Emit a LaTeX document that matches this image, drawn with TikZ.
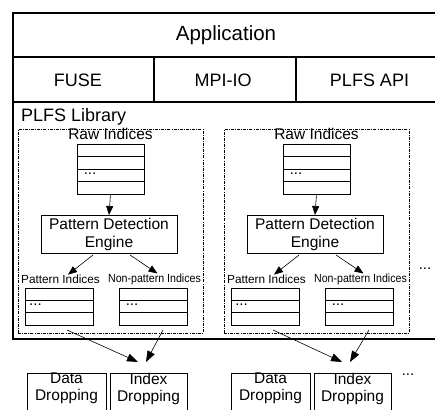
\documentclass[tikz,border=0pt]{standalone}
\usepackage{fontspec}
\setmainfont{Liberation Sans}
\newfontfamily\narrowsans[FakeStretch=0.9]{Liberation Sans}
\usetikzlibrary{arrows.meta,calc}
\begin{document}
\begin{tikzpicture}[x=1pt,y=-1pt,
  every node/.style={inner sep=0pt,outer sep=0pt},
  cell/.style={draw,line width=1.1pt},
  dashbox/.style={draw,line width=0.8pt,dash pattern=on 3pt off 1.2pt on 0.8pt off 1.2pt},
  tbl/.style={draw,line width=0.9pt},
  rowline/.style={line width=0.9pt},
  boxnode/.style={draw,line width=0.9pt},
  arr/.style={line width=0.6pt,-{Triangle[length=9pt,width=7pt]}},
  bigarr/.style={line width=0.6pt,-{Triangle[length=11pt,width=8pt]}},
  apptext/.style={font=\fontsize{20.5}{24}\selectfont},
  layertext/.style={font=\fontsize{18}{21}\selectfont},
  midtext/.style={font=\fontsize{15.5}{18}\selectfont},
  droptext/.style={font=\fontsize{15.5}{17}\selectfont,align=center},
  smalltext/.style={font=\fontsize{11.8}{14}\selectfont},
  narrowtext/.style={font=\narrowsans\fontsize{11.8}{14}\selectfont},
  dots/.style={font=\fontsize{15}{18}\selectfont}]
\useasboundingbox (0,0) rectangle (435,409);
\clip (0,0) rectangle (435,409);
% layered frame
\node[cell,minimum width=430pt,minimum height=44pt] (app) at (228,35) {};
\node[apptext] (apptxt) at (226,35) {Application};
\node[cell,minimum width=141pt,minimum height=45pt] (fuse) at (83.5,79.5) {};
\node[layertext] (fusetxt) at (78,80) {FUSE};
\node[cell,minimum width=142pt,minimum height=45pt] (mpi) at (225,79.5) {};
\node[layertext] (mpitxt) at (223,80) {MPI-IO};
\node[cell,minimum width=147pt,minimum height=45pt] (api) at (369.5,79.5) {};
\node[layertext] (apitxt) at (369.5,80) {PLFS API};
\node[cell,minimum width=430pt,minimum height=237pt] (lib) at (228,220.5) {};
\node[layertext,anchor=west] (libtxt) at (21,117) {PLFS Library};
% two groups
\foreach \g/\dx/\bx in {1/0/0,2/206/204}{
  \node[dashbox,minimum width=185pt,minimum height=204pt] (grp\g) at (110.5+\dx,231) {};
  \node[midtext] (rawtxt\g) at (110.5+\dx,134) {Raw Indices};
  \node[tbl,minimum width=67pt,minimum height=50pt] (raw\g) at (110.5+\dx,169) {};
  \foreach \k in {1,2,3}{
    \draw[rowline] ($(raw\g.north west)+(0,12.5*\k)$) -- ++(67,0);
  }
  \node[dots] (rawdots\g) at (90+\dx,174) {...};
  \node[boxnode,minimum width=136pt,minimum height=38pt,midtext,align=center] (pde\g) at (109+\dx,234) {Pattern Detection\\Engine};
  \draw[arr] (raw\g.south) -- (pde\g.north);
  \node[smalltext] (pl\g) at (60.5+\dx,279) {Pattern Indices};
  \node[narrowtext] (npl\g) at (154.5+\dx,279) {Non-pattern Indices};
  \draw[arr] ($(pde\g.south)+(-16,2)$) -- ($(pl\g.north)+(7.5,0)$);
  \draw[arr] ($(pde\g.south)+(21,2)$) -- ($(npl\g.north)+(3,0)$);
  \node[tbl,minimum width=68pt,minimum height=37pt] (pt\g) at (59+\dx,306.5) {};
  \node[tbl,minimum width=68pt,minimum height=37pt] (np\g) at (153+\dx,306.5) {};
  \foreach \k in {1,2}{
    \draw[rowline] ($(pt\g.north west)+(0,12.33*\k)$) -- ++(68,0);
    \draw[rowline] ($(np\g.north west)+(0,12.33*\k)$) -- ++(68,0);
  }
  \node[dots] (ptdots\g) at (35.5+\dx,305) {...};
  \node[dots] (npdots\g) at (132+\dx,305) {...};
  \node[boxnode,minimum width=79pt,minimum height=52pt] (dd\g) at (66.5+\bx,399) {};
  \node[droptext] (ddtxt\g) at (66.5+\bx,388.5) {Data\\Dropping};
  \node[boxnode,minimum width=77pt,minimum height=52pt] (id\g) at (148.5+\bx,399) {};
  \node[droptext] (idtxt\g) at (148.5+\bx,388.5) {Index\\Dropping};
  \draw[bigarr] ($(pt\g.south)+(8,5)$) -- ($(id\g.north)+(-10.5,-11)$);
  \draw[bigarr] ($(np\g.south)+(10,5)$) -- ($(id\g.north)+(-2.5,-11)$);
}
\node[dots] (moregrp) at (425,269) {...};
\node[dots] (moredrop) at (408,375) {...};
\end{tikzpicture}
\end{document}
